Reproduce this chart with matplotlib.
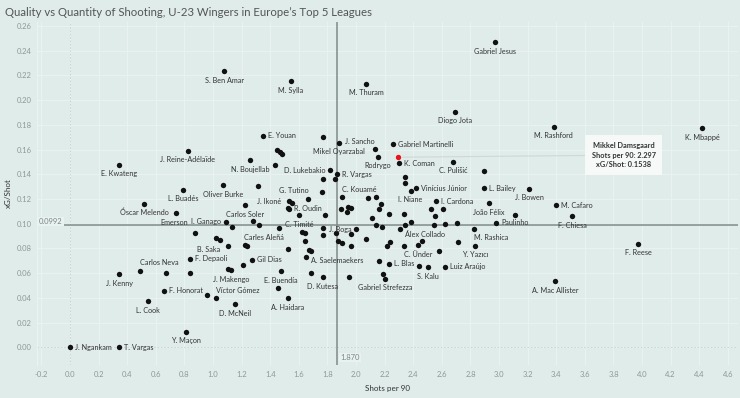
import matplotlib
matplotlib.use("Agg")
import matplotlib.pyplot as plt
import matplotlib.transforms as mtransforms

plt.rcParams['font.family'] = ['Lato', 'DejaVu Sans']

# labelled players: name, shots per 90, xG per shot
names = [
    "Gabriel Jesus", "S. Ben Amar", "M. Sylla", "M. Thuram", "Diogo Jota", "M. Rashford",
    "K. Mbappé", "E. Youan", "Mikel Oyarzabal", "J. Sancho", "Gabriel Martinelli",
    "J. Reine-Adélaïde", "Rodrygo", "K. Coman", "C. Pulišić", "E. Kwateng", "N. Boujellab",
    "D. Lukebakio", "R. Vargas", "L. Buadés", "Oliver Burke", "Vinícius Júnior", "I. Niane",
    "L. Bailey", "J. Bowen", "G. Tutino", "J. Ikoné", "R. Oudin", "C. Kouamé", "Carlos Soler",
    "Óscar Melendo", "I. Ganago", "Emerson", "C. Timité", "J. Boga", "Carles Aleñá", "B. Saka",
    "F. Depaoli", "Gil Dias", "A. Saelemaekers", "Carlos Neva", "J. Kenny", "J. Makengo",
    "E. Buendía", "D. Kutesa", "F. Honorat", "Víctor Gómez", "L. Cook", "D. McNeil",
    "A. Haidara", "Y. Maçon", "J. Ngankam", "T. Vargas", "Gabriel Strefezza", "S. Kalu",
    "Luiz Araújo", "L. Blas", "C. Ünder", "Y. Yazıcı", "M. Rashica", "Álex Collado",
    "Paulinho", "João Félix", "I. Cardona", "M. Cafaro", "F. Chiesa", "F. Reese",
    "A. Mac Allister",
]
shots = [
    2.972, 1.079, 1.543, 2.070, 2.692, 3.383,
    4.422, 1.350, 1.883, 2.133, 2.260,
    0.822, 2.154, 2.303, 2.680, 0.345, 1.261,
    1.820, 1.869, 0.792, 1.072, 2.422, 2.382,
    2.893, 3.212, 1.762, 1.534, 1.666, 1.902, 1.224,
    0.520, 1.093, 0.872, 1.462, 2.002, 1.324, 1.103,
    0.841, 1.273, 1.652, 0.492, 0.345, 1.128,
    1.473, 1.769, 0.659, 1.023, 0.543, 1.154,
    1.522, 0.811, 0.000, 0.345, 2.203, 2.503,
    2.622, 2.233, 2.434, 2.830, 2.825, 2.343,
    2.981, 2.930, 2.562, 3.401, 3.513, 3.972,
    3.394,
]
xg_shot = [
    0.2468, 0.2233, 0.2152, 0.2133, 0.1906, 0.1785,
    0.1772, 0.1710, 0.1655, 0.1602, 0.1643,
    0.1592, 0.1541, 0.1489, 0.1502, 0.1477, 0.1515,
    0.1434, 0.1402, 0.1274, 0.1313, 0.1286, 0.1267,
    0.1286, 0.1281, 0.1254, 0.1184, 0.1200, 0.1214, 0.1151,
    0.1162, 0.1014, 0.0925, 0.0965, 0.0957, 0.0992, 0.0822,
    0.0717, 0.0709, 0.0728, 0.0617, 0.0591, 0.0623,
    0.0617, 0.0566, 0.0458, 0.0396, 0.0372, 0.0350,
    0.0399, 0.0124, 0.0000, 0.0000, 0.0553, 0.0646,
    0.0652, 0.0676, 0.0826, 0.0820, 0.0961, 0.0989,
    0.1008, 0.1165, 0.1181, 0.1151, 0.1060, 0.0838,
    0.0534,
]

# players without a visible label
other_shots = [
    1.771, 1.450, 1.466, 1.483, 1.431, 1.771, 1.851, 1.313, 2.341, 2.341, 2.893,
    2.082, 2.142, 1.552, 1.527, 1.534, 1.895, 1.941, 1.964, 1.934, 1.601, 1.783,
    2.113, 2.172, 2.163, 2.234, 2.333, 2.522, 2.611, 2.552, 3.112, 0.741, 1.133,
    1.282, 1.771, 1.862, 1.966, 2.141, 2.184, 2.385, 2.310, 2.542, 2.624, 2.704,
    1.023, 1.052, 1.224, 1.238, 1.524, 1.622, 1.646, 1.646, 1.669, 1.685, 1.769,
    2.070, 1.871, 1.902, 1.962, 2.214, 2.241, 2.333, 2.460, 2.580, 2.711, 1.212,
    1.103, 0.841, 0.671, 0.960, 1.452, 1.683, 1.953, 2.164, 2.443, 2.191,
]
other_xg = [
    0.1704, 0.1594, 0.1579, 0.1562, 0.1477, 0.1362, 0.1359, 0.1305, 0.1376, 0.1331, 0.1424,
    0.1205, 0.1220, 0.1167, 0.1127, 0.1117, 0.1117, 0.1137, 0.1131, 0.1093, 0.1068, 0.1073,
    0.1049, 0.1158, 0.1117, 0.1080, 0.1077, 0.1117, 0.1117, 0.1064, 0.1068, 0.1087, 0.0977,
    0.1020, 0.0963, 0.0921, 0.0917, 0.0988, 0.0971, 0.1016, 0.0955, 0.0988, 0.0996, 0.1004,
    0.0888, 0.0866, 0.0824, 0.0818, 0.0795, 0.0930, 0.0922, 0.0858, 0.0785, 0.0779, 0.0906,
    0.0876, 0.0858, 0.0842, 0.0822, 0.0820, 0.0854, 0.0820, 0.0858, 0.0779, 0.0854, 0.0663,
    0.0636, 0.0599, 0.0599, 0.0421, 0.0482, 0.0599, 0.0566, 0.0698, 0.0658, 0.0595,
]

highlight_name = "Mikkel Damsgaard"
highlight_shots = 2.297
highlight_xg = 0.1538

avg_shots = 1.870
avg_xg = 0.0992

# label placement (ha, dx px, dy px down); default is below the dot
BELOW = ("center", 0, 9)
RIGHT = ("left", 5, 0)
LEFT = ("right", -5, 0)
label_pos = {
    "E. Youan": RIGHT, "J. Sancho": ("right", 0, -8), "Gabriel Martinelli": RIGHT,
    "K. Coman": RIGHT, "D. Lukebakio": LEFT, "R. Vargas": RIGHT,
    "Vinícius Júnior": RIGHT, "L. Bailey": RIGHT, "G. Tutino": ("right", -13, -1.5),
    "J. Ikoné": ("right", -8, 0.7), "C. Kouamé": ("left", 0, -8), "I. Ganago": LEFT,
    "Emerson": ("right", -7, -10.5), "C. Timité": ("left", 6, -3.7), "J. Boga": LEFT,
    "Carles Aleñá": ("center", 5, 12.5), "B. Saka": ("right", -7, 4),
    "F. Depaoli": RIGHT, "Gil Dias": RIGHT, "A. Saelemaekers": ("left", 4.4, 3),
    "Carlos Neva": ("left", 0, -8.3), "F. Honorat": RIGHT, "Víctor Gómez": ("left", 0, -8.3),
    "J. Ngankam": RIGHT, "T. Vargas": RIGHT, "Luiz Araújo": RIGHT, "L. Blas": RIGHT,
    "M. Rashica": ("left", 0, 8.7), "Álex Collado": ("left", 0, 9), "Paulinho": RIGHT,
    "I. Cardona": RIGHT, "M. Cafaro": RIGHT,
}

BG = "#dfecea"
fig = plt.figure(figsize=(7.4, 3.98), dpi=100)
fig.patch.set_facecolor(BG)
ax = fig.add_axes([37 / 740, 33 / 398, 701 / 740, 343 / 398])
ax.set_facecolor(BG)
ax.set_xlim(-0.2308, 4.671)
ax.set_ylim(-0.0143, 0.2632)

xt = [round(-0.2 + 0.2 * i, 1) for i in range(25)]
yt = [round(0.02 * i, 2) for i in range(14)]
ax.set_xticks(xt)
ax.set_xticklabels([f"{v:.1f}" for v in xt])
ax.set_yticks(yt)
ax.set_yticklabels([f"{v:.2f}" for v in yt])
ax.tick_params(length=0, labelsize=5.5, labelcolor="#8d9997", pad=4)
ax.grid(color="#e9f3f1", lw=0.7)
ax.set_axisbelow(True)
for s in ["top", "right", "bottom"]:
    ax.spines[s].set_visible(False)
ax.spines["left"].set_color("#eaf3f1")

# zero lines
ax.axvline(0, color="#c6d2d0", lw=0.6, ls=(0, (2, 2)), zorder=1)
ax.axhline(0, color="#c6d2d0", lw=0.6, ls=(0, (2, 2)), zorder=1)

# average reference lines
ax.axvline(avg_shots, color="#7f8b89", lw=1.1, zorder=2)
ax.axhline(avg_xg, color="#7f8b89", lw=1.1, zorder=2)
trans_y = mtransforms.blended_transform_factory(ax.transAxes, ax.transData)
ax.text(0.003, avg_xg, f"{avg_xg:.4f}", transform=trans_y, fontsize=5.5, color="#7d8886",
        ha="left", va="bottom",
        bbox=dict(boxstyle="square,pad=0.15", fc="#e8f2f0", ec="none"))
trans_x = mtransforms.blended_transform_factory(ax.transData, ax.transAxes)
ax.text(avg_shots + 0.02, 0.012, f"{avg_shots:.3f}", transform=trans_x, fontsize=5.5,
        color="#7d8886", ha="left", va="bottom",
        bbox=dict(boxstyle="square,pad=0.15", fc="#e8f2f0", ec="none"))

ax.scatter(other_shots, other_xg, s=15, color="#111111", lw=0, zorder=3)
ax.scatter(shots, xg_shot, s=15, color="#111111", lw=0, zorder=3)
ax.scatter([highlight_shots], [highlight_xg], s=15, color="#e8141b", lw=0, zorder=4)

for n, x, y in zip(names, shots, xg_shot):
    ha, dx, dy = label_pos.get(n, BELOW)
    ax.annotate(n, (x, y), xytext=(dx * 0.72, -dy * 0.72), textcoords="offset points",
                ha=ha, va="center", fontsize=5.2, color="#333333", zorder=5)

# tooltip for highlighted player
ax.annotate(f"{highlight_name}\nShots per 90: {highlight_shots:.3f}\nxG/Shot: {highlight_xg:.4f}",
            (highlight_shots, highlight_xg), xytext=(3.871, 0.1555),
            ha="center", va="center", multialignment="center",
            fontsize=5.3, fontweight="bold", color="#333333",
            linespacing=1.45, zorder=6,
            bbox=dict(boxstyle="square,pad=0.9", fc="#f6f9f8", ec="none"),
            arrowprops=dict(arrowstyle="-", color="#cfd8d6", lw=0.8, shrinkA=0, shrinkB=3))

ax.set_xlabel("Shots per 90", fontsize=5.8, color="#333333", labelpad=5)
ax.set_ylabel("xG/Shot", fontsize=5.8, color="#333333", labelpad=3)

fig.text(5 / 740, 1 - 12 / 398, "Quality vs Quantity of Shooting, U-23 Wingers in Europe’s Top 5 Leagues",
         fontsize=8.2, color="#555555", ha="left", va="center")

fig.savefig("out.png", dpi=100, facecolor=BG)
